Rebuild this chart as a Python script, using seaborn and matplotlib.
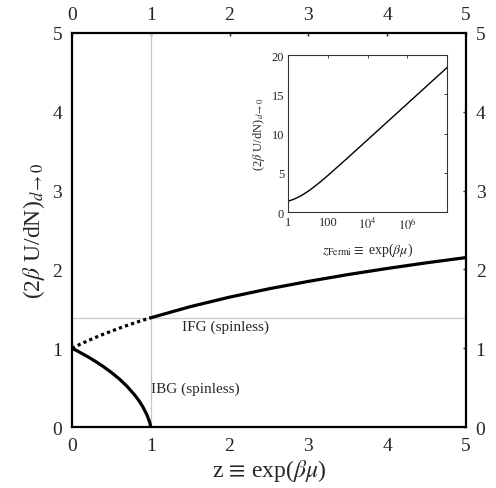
import numpy as np
import pandas as pd
import matplotlib
matplotlib.use('Agg')
import matplotlib.pyplot as plt
import seaborn as sns

# --- values ---
z_bose = [0.0, 0.05, 0.1, 0.2, 0.3, 0.4, 0.5, 0.6, 0.7, 0.8, 0.85, 0.9,
          0.95, 0.98, 0.99, 0.995, 0.999, 1.0]
u_bose = [1.0, 0.975, 0.948, 0.893, 0.832, 0.766, 0.693, 0.611, 0.516,
          0.402, 0.335, 0.256, 0.158, 0.080, 0.047, 0.027, 0.007, 0.0]

z_fermi_low = [0.0, 0.1, 0.2, 0.3, 0.4, 0.5, 0.6, 0.7, 0.8, 0.9, 1.0]
u_fermi_low = [1.0, 1.048, 1.094, 1.137, 1.178, 1.216, 1.253, 1.289,
               1.323, 1.355, 1.386]

z_fermi_high = [1.0, 1.5, 2.0, 2.5, 3.0, 3.5, 4.0, 4.5, 5.0]
u_fermi_high = [1.386, 1.527, 1.648, 1.754, 1.848, 1.934, 2.012, 2.084, 2.150]

z_inset = [1, 1.5, 2, 3, 5, 10, 20, 30, 50, 100, 1e3, 1e4, 1e5, 1e6, 1e7, 1e8]
u_inset = [1.386, 1.527, 1.648, 1.848, 2.150, 2.638, 3.197, 3.549, 4.011,
           4.661, 6.916, 9.211, 11.513, 13.816, 16.118, 18.421]

main_ticks = [0, 1, 2, 3, 4, 5]
inset_xticks = [1, 100, 1e4, 1e6]
inset_xticklabels = ['1', '100', r'$10^4$', r'$10^6$']
inset_yticks = [0, 5, 10, 15, 20]

sns.set_style('white')
plt.rcParams['font.family'] = ['Liberation Serif', 'DejaVu Serif']
plt.rcParams['mathtext.fontset'] = 'stix'

fig = plt.figure(figsize=(4.96, 4.89), dpi=100)
ax = fig.add_axes([0.145, 0.1247, 0.7945, 0.8058])

# guide lines at z = 1 and at the Fermi value there
ax.axvline(1, color='#c8c8c8', lw=0.9, zorder=1)
ax.axhline(u_fermi_high[0], color='#c8c8c8', lw=0.9, zorder=1)

bose = pd.DataFrame({'z': z_bose, 'u': u_bose})
flow = pd.DataFrame({'z': z_fermi_low, 'u': u_fermi_low})
fhigh = pd.DataFrame({'z': z_fermi_high, 'u': u_fermi_high})

sns.lineplot(data=bose, x='z', y='u', ax=ax, color='black', lw=2.3, sort=False)
sns.lineplot(data=flow, x='z', y='u', ax=ax, color='black', lw=2.3,
             linestyle=(0, (1, 1)), sort=False)
sns.lineplot(data=fhigh, x='z', y='u', ax=ax, color='black', lw=2.3, sort=False)

ax.text(1.4, 1.28, 'IFG (spinless)', fontsize=11, va='center', ha='left')
ax.text(1.0, 0.49, 'IBG (spinless)', fontsize=11, va='center', ha='left')

ax.set_xlim(0, 5)
ax.set_ylim(0, 5)
ax.set_xticks(main_ticks)
ax.set_yticks(main_ticks)
ax.tick_params(direction='in', length=2, width=1, labelsize=14,
               top=True, right=True, labeltop=True, labelright=True, pad=7)
ax.set_xlabel(r'z$\,\equiv\,$exp($\beta\mu$)', fontsize=17, labelpad=2)
ax.set_ylabel(r'(2$\beta$ U/dN)$_{d\rightarrow0}$', fontsize=17, labelpad=4)
for sp in ax.spines.values():
    sp.set_linewidth(1.6)
    sp.set_color('black')

# --- inset ---
ins = fig.add_axes([0.581, 0.5644, 0.3206, 0.321])
ins_df = pd.DataFrame({'z': z_inset, 'u': u_inset})
sns.lineplot(data=ins_df, x='z', y='u', ax=ins, color='black', lw=1.0, sort=False)
ins.set_xscale('log')
ins.set_xlim(1, 1e8)
ins.set_ylim(0, 20)
ins.set_xticks(inset_xticks)
ins.set_xticklabels(inset_xticklabels)
ins.set_yticks(inset_yticks)
ins.minorticks_off()
ins.tick_params(direction='in', length=2, width=0.6, labelsize=9,
                top=True, right=True, pad=3)
ins.set_xlabel(r'$z_{\mathrm{Fermi}}\equiv$ exp($\beta\mu$)', fontsize=10, labelpad=6)
ins.set_ylabel(r'(2$\beta$ U/dN)$_{d\rightarrow0}$', fontsize=9, labelpad=3)
for sp in ins.spines.values():
    sp.set_linewidth(0.8)
    sp.set_color('#333333')

fig.savefig('out.png', dpi=100)
